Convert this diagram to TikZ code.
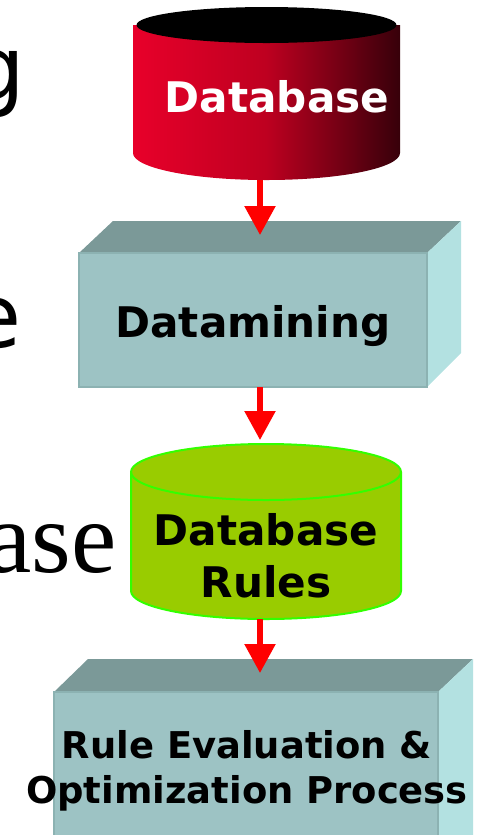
\documentclass[tikz,border=0pt]{standalone}
\usepackage{fontspec}
\setmainfont{DejaVu Sans}
\newfontfamily\fragsans{DejaVu Sans}
\newfontfamily\fragserif{Liberation Serif}
\usetikzlibrary{arrows.meta}
\definecolor{dbred}{RGB}{232,0,42}
\definecolor{dbmid}{RGB}{190,0,32}
\definecolor{dbdark}{RGB}{55,0,10}
\definecolor{boxfront}{RGB}{157,195,196}
\definecolor{boxtop}{RGB}{123,153,152}
\definecolor{boxside}{RGB}{179,225,225}
\definecolor{boxedge}{RGB}{140,178,178}
\definecolor{rulefill}{RGB}{153,204,0}
\definecolor{ruleedge}{RGB}{51,255,0}
\tikzset{
  flow/.style={draw=red,line width=0.11cm,-{Triangle[width=0.6cm,length=0.58cm]}},
  lbl/.style={font=\bfseries\fontsize{24}{29.6}\selectfont,inner sep=0pt,align=center},
  frag/.style={font=\fragsans\fontsize{50}{60}\selectfont,inner sep=0pt,anchor=base east}
}

\begin{document}
\begin{tikzpicture}
\useasboundingbox (0,0) rectangle (9.54,-16.7);
\node[frag] (w1) at (0.52,-1.98) {g};
\node[frag] (w2) at (0.44,-6.94) {e};
\node[frag,font=\fragserif\fontsize{58}{60}\selectfont] (w3) at (2.34,-11.44) {ase};
% database
\shade[left color=dbred,right color=dbdark,middle color=dbmid]
(2.66,-0.5) -- (2.66,-3.06) arc[start angle=180,end angle=360,x radius=2.67,y radius=0.54] -- (8.0,-0.5) -- cycle;
\fill (5.33,-0.5) ellipse[x radius=2.6,y radius=0.36];
\node[lbl,white,anchor=base] (db) at (5.54,-2.24) {Database};
% datamining box
\fill[boxtop] (1.58,-5.06) -- (2.26,-4.42) -- (9.22,-4.42) -- (8.54,-5.06) -- cycle;
\fill[boxside] (8.54,-5.06) -- (9.22,-4.42) -- (9.22,-7.06) -- (8.54,-7.74) -- cycle;
\filldraw[fill=boxfront,draw=boxedge,line width=0.04cm] (1.58,-5.06) rectangle (8.54,-7.74);
\node[lbl,anchor=base] (dm) at (5.06,-6.74) {Datamining};
% rules
\filldraw[fill=rulefill,draw=ruleedge,line width=0.04cm]
(2.62,-9.44) -- (2.62,-11.82) arc[start angle=180,end angle=360,x radius=2.7,y radius=0.56]
-- (8.02,-9.44) arc[start angle=0,end angle=180,x radius=2.7,y radius=0.56] -- cycle;
\draw[ruleedge,line width=0.04cm] (2.62,-9.44) arc[start angle=180,end angle=360,x radius=2.7,y radius=0.56];
\node[lbl] (rules) at (5.32,-11.12) {Database\\Rules};
% evaluation box
\fill[boxtop] (1.08,-13.84) -- (1.76,-13.18) -- (9.46,-13.18) -- (8.76,-13.84) -- cycle;
\fill[boxside] (8.76,-13.84) -- (9.46,-13.18) -- (9.46,-17.2) -- (8.76,-17.2) -- cycle;
\filldraw[fill=boxfront,draw=boxedge,line width=0.04cm] (1.08,-13.84) rectangle (8.76,-17.2);
\node[lbl,font=\bfseries\fontsize{21}{25.6}\selectfont] (ev) at (4.94,-15.42) {Rule Evaluation \&\\Optimization Process};
\coordinate (a1) at (5.2,-3.6);
\coordinate (b1) at (5.2,-4.7);
\coordinate (a2) at (5.2,-7.74);
\coordinate (b2) at (5.2,-8.8);
\coordinate (a3) at (5.2,-12.38);
\coordinate (b3) at (5.2,-13.46);
\foreach \s/\t in {a1/b1,a2/b2,a3/b3}
\draw[flow] (\s) -- (\t);
\end{tikzpicture}
\end{document}
